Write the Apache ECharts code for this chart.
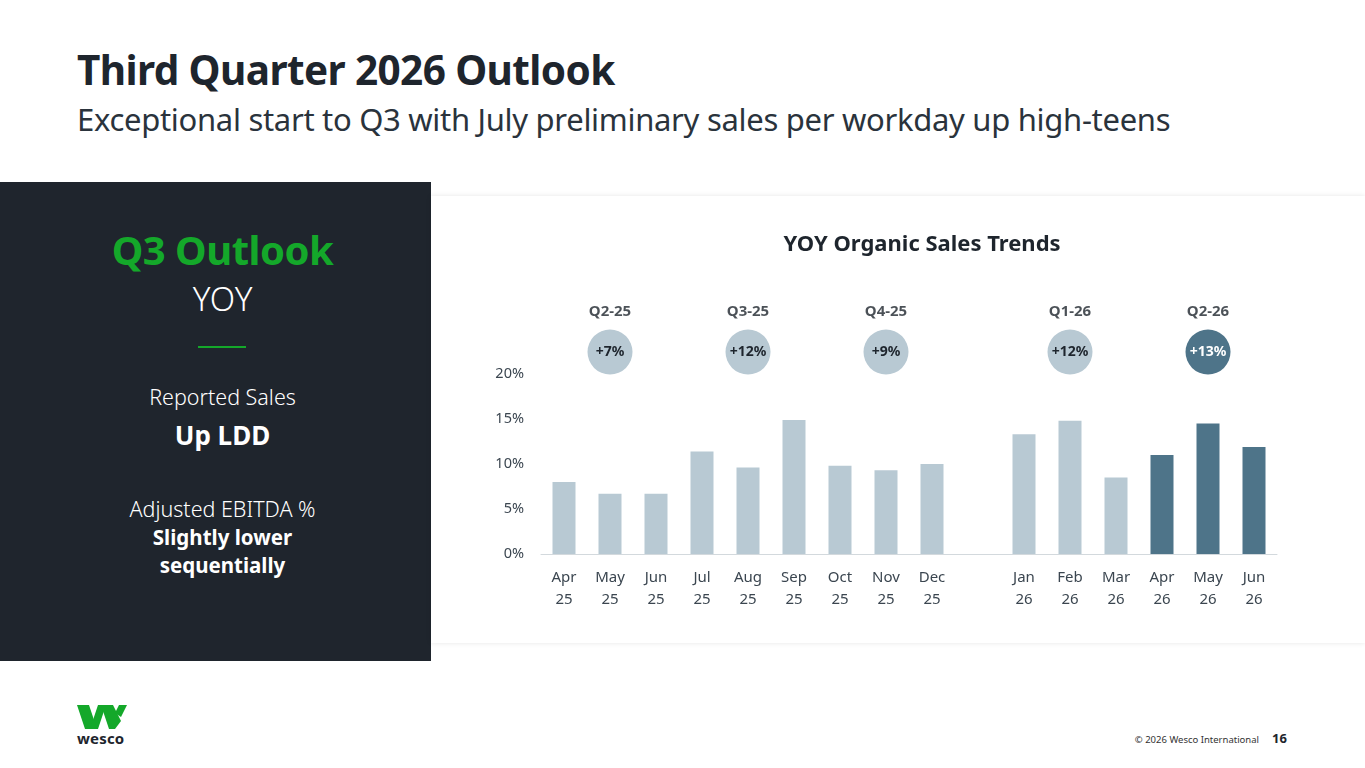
<!DOCTYPE html>
<html lang="en">

<head>
  <meta charset="utf-8" />
  <title>Third Quarter 2026 Outlook</title>
  <script src="https://cdn.jsdelivr.net/npm/echarts@6/dist/echarts.min.js"></script>
  <style>
    * {
      margin: 0;
      padding: 0;
    }

    body {
      width: 1365px;
      height: 768px;
      position: relative;
      overflow: hidden;
      background: #fff;
      font-family: "Noto Sans", sans-serif;
      color: #1e252d;
    }

    .title {
      position: absolute;
      left: 77px;
      top: 42px;
      font-size: 40.5px;
      font-weight: 700;
      letter-spacing: -0.6px;
    }

    .subtitle {
      position: absolute;
      left: 77px;
      top: 98px;
      font-size: 31px;
      color: #2a333c;
      letter-spacing: -0.3px;
    }

    .panel {
      position: absolute;
      left: 0;
      top: 182px;
      width: 431px;
      height: 479px;
      background: #1f252d;
      color: #fff;
      text-align: center;
    }

    .panel div {
      position: absolute;
      width: 100%;
      left: 7px;
    }

    .card {
      position: absolute;
      left: 431px;
      top: 196px;
      width: 934px;
      height: 447px;
      background: #fff;
      box-shadow: 0 0 5px rgba(0, 0, 0, 0.10);
    }

    #chart-container {
      position: absolute;
      left: 0;
      top: 0;
      width: 934px;
      height: 447px;
    }

    .footer {
      position: absolute;
      top: 733px;
      right: 106px;
      font-size: 9.5px;
      color: #333;
      white-space: nowrap;
    }

    .page {
      position: absolute;
      top: 729px;
      left: 1272px;
      font-size: 13px;
      font-weight: 700;
      color: #1e252d;
    }

    .logo {
      position: absolute;
      left: 77px;
      top: 705px;
    }

    .logo-text {
      position: absolute;
      left: 77px;
      top: 728px;
      font-size: 15px;
      font-weight: 700;
      color: #1e252d;
      letter-spacing: 0.2px;
    }
  </style>
</head>

<body>
  <div class="title">Third Quarter 2026 Outlook</div>
  <div class="subtitle">Exceptional start to Q3 with July preliminary sales per workday up high-teens</div>

  <div class="panel">
    <div style="top:40px;font-size:40px;font-weight:700;color:#14a82a;letter-spacing:-0.5px;">Q3 Outlook</div>
    <div style="top:94px;font-size:33px;font-weight:300;">YOY</div>
    <div style="top:164px;left:198px;width:48px;height:2px;background:#14a82a;"></div>
    <div style="top:200px;font-size:21.5px;font-weight:300;">Reported Sales</div>
    <div style="top:235px;font-size:26px;font-weight:700;">Up LDD</div>
    <div style="top:312px;font-size:21.5px;font-weight:300;">Adjusted EBITDA %</div>
    <div style="top:341px;font-size:20.5px;font-weight:700;line-height:28px;">Slightly lower<br>sequentially</div>
  </div>

  <div class="card">
    <div id="chart-container"></div>
  </div>

  <svg class="logo" width="50" height="24" viewBox="0 0 50 24">
    <polygon points="0,0 12,0 20,24 8,24" fill="#14a82a" />
    <polygon points="13,24 21,0 29,0 21,24" fill="#14a82a" />
    <polygon points="24,0 36,0 44,16 38,24 32,24" fill="#14a82a" />
    <polygon points="38,8 42,0 50,0 44,12" fill="#14a82a" />
  </svg>
  <div class="logo-text">wesco</div>

  <div class="footer">© 2026 Wesco International</div>
  <div class="page">16</div>

  <script>
    // months, with an empty slot between Dec 25 and Jan 26
    var months = ["Apr\n25", "May\n25", "Jun\n25", "Jul\n25", "Aug\n25", "Sep\n25", "Oct\n25", "Nov\n25", "Dec\n25",
      "", "Jan\n26", "Feb\n26", "Mar\n26", "Apr\n26", "May\n26", "Jun\n26"];
    var growth = [8.0, 6.7, 6.7, 11.4, 9.6, 14.9, 9.8, 9.3, 10.0,
      null, 13.3, 14.8, 8.5, 11.0, 14.5, 11.9];
    var highlightFrom = 13; // Q2-26 months are dark

    var quarterNames = ["Q2-25", "Q3-25", "Q4-25", "Q1-26", "Q2-26"];
    var quarterValues = ["+7%", "+12%", "+9%", "+12%", "+13%"];
    var quarterAt = [1, 4, 7, 11, 14]; // middle month of each quarter

    var yTicks = [0, 5, 10, 15, 20];
  </script>

  <script>
    var light = "#b8c9d3";
    var dark = "#4e7489";

    var dom = document.getElementById("chart-container");
    var myChart = echarts.init(dom, null, { renderer: "canvas" });

    var barData = growth.map(function (v, i) {
      return { value: v, itemStyle: { color: i >= highlightFrom ? dark : light } };
    });

    var circleData = quarterAt.map(function (idx, i) {
      var last = i === quarterAt.length - 1;
      return {
        value: [idx, 1.2],
        itemStyle: { color: last ? dark : light, opacity: 1 },
        label: { formatter: quarterValues[i], color: last ? "#fff" : "#1e252d" }
      };
    });

    var nameData = quarterAt.map(function (idx, i) {
      return { value: [idx, 3.2], label: { formatter: quarterNames[i] } };
    });

    var option = {
      animation: false,
      textStyle: { fontFamily: "Noto Sans" },
      title: {
        text: "YOY Organic Sales Trends",
        left: 486,
        top: 33,
        textAlign: "center",
        textStyle: { fontSize: 22, fontWeight: "bold", color: "#1e252d", fontFamily: "Noto Sans" }
      },
      grid: [
        { left: 110, width: 736, top: 178, height: 180 },
        { left: 110, width: 736, top: 100, height: 80 }
      ],
      xAxis: [
        {
          type: "category",
          gridIndex: 0,
          data: months,
          axisLine: { lineStyle: { color: "#d3d9dd", width: 1 } },
          axisTick: { show: false },
          axisLabel: { color: "#3b4650", fontSize: 15, lineHeight: 22, margin: 13, interval: 0 }
        },
        {
          type: "category",
          gridIndex: 1,
          data: months,
          show: false
        }
      ],
      yAxis: [
        {
          type: "value",
          gridIndex: 0,
          min: yTicks[0],
          max: yTicks[yTicks.length - 1],
          interval: 5,
          splitLine: { show: false },
          axisLine: { show: false },
          axisTick: { show: false },
          axisLabel: { color: "#3b4650", fontSize: 14.5, margin: 17, formatter: "{value}%" }
        },
        {
          type: "value",
          gridIndex: 1,
          min: 0,
          max: 4,
          show: false
        }
      ],
      series: [
        {
          type: "bar",
          xAxisIndex: 0,
          yAxisIndex: 0,
          data: barData,
          barWidth: "50%"
        },
        {
          type: "scatter",
          xAxisIndex: 1,
          yAxisIndex: 1,
          symbolSize: 45,
          data: circleData,
          label: { show: true, position: "inside", fontSize: 14, fontWeight: "bold" },
          silent: true
        },
        {
          type: "scatter",
          xAxisIndex: 1,
          yAxisIndex: 1,
          symbolSize: 0,
          data: nameData,
          label: { show: true, position: "inside", fontSize: 15, fontWeight: "bold", color: "#1e252d" },
          silent: true
        }
      ]
    };

    myChart.setOption(option);
    window.addEventListener("resize", myChart.resize);
  </script>
</body>

</html>
